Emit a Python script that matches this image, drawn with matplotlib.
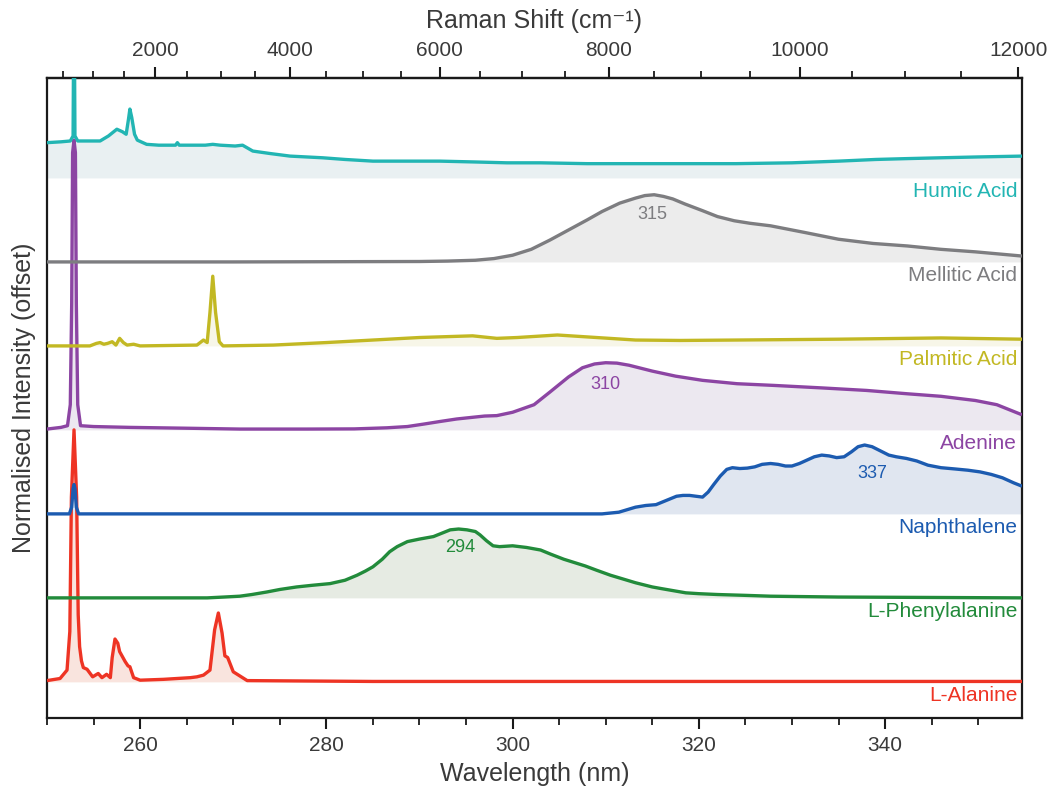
import numpy as np
import matplotlib
matplotlib.use("Agg")
import matplotlib.pyplot as plt
from matplotlib.ticker import MultipleLocator, FixedLocator

plt.rcParams['font.family'] = ['Liberation Sans', 'DejaVu Sans']

LASER_NM = 248.6

# ---------------- data (wavelength nm, normalised intensity) ----------------
humic_wl = [250.0, 251.5, 252.5, 252.8, 252.9, 253.0, 253.3, 254.5, 255.7,
            256.6, 257.5, 258.1, 258.5, 258.75, 258.9, 259.1, 259.4, 259.7, 260.7,
            262.0, 263.8, 264.0, 264.2, 266.0, 267.0, 267.8, 268.6, 270.2, 271.0,
            272.1, 274.0, 276.1, 279.6, 282.0, 285.0, 288.0, 292.2, 296.0, 299.4,
            303.0, 308.0, 313.2, 318.0, 324.0, 330.0, 335.0, 339.0, 342.3, 346.0,
            350.0, 354.7]
humic_int = [0.42, 0.43, 0.44, 0.5, 2.5, 0.5, 0.44, 0.44, 0.44,
             0.50, 0.58, 0.55, 0.52, 0.70, 0.82, 0.72, 0.52, 0.45, 0.40,
             0.39, 0.39, 0.42, 0.39, 0.39, 0.39, 0.40, 0.39, 0.38, 0.39,
             0.32, 0.29, 0.26, 0.24, 0.22, 0.20, 0.20, 0.20, 0.19, 0.18,
             0.18, 0.17, 0.17, 0.17, 0.17, 0.18, 0.20, 0.22, 0.23, 0.24,
             0.25, 0.26]

mellitic_wl = [250.0, 270.0, 290.0, 293.0, 296.0, 298.0, 300.0, 302.0, 304.0, 306.0,
               308.0, 309.6, 311.5, 313.2, 314.2, 315.2, 316.2, 317.2, 318.5, 320.4,
               322.0, 323.8, 325.5, 327.7, 331.4, 335.0, 338.7, 342.4, 346.0, 349.7,
               354.7]
mellitic_int = [0.0, 0.0, 0.005, 0.01, 0.02, 0.04, 0.08, 0.15, 0.26, 0.38,
                0.50, 0.60, 0.70, 0.76, 0.79, 0.80, 0.78, 0.75, 0.69, 0.61,
                0.54, 0.49, 0.46, 0.43, 0.35, 0.27, 0.22, 0.19, 0.15, 0.12,
                0.07]

palmitic_wl = [250.0, 254.6, 255.3, 255.7, 256.1, 256.5, 257.0, 257.4, 257.8, 258.2,
               258.6, 259.3, 260.0, 266.1, 266.8, 267.2, 267.5, 267.8, 268.1, 268.5,
               268.9, 274.3, 280.0, 285.0, 290.0, 295.7, 298.3, 300.5, 304.8, 309.0,
               313.2, 318.0, 324.1, 335.0, 346.0, 354.7]
palmitic_int = [0.0, 0.0, 0.03, 0.04, 0.02, 0.03, 0.05, 0.01, 0.09, 0.04,
                0.01, 0.02, 0.0, 0.01, 0.07, 0.04, 0.40, 0.83, 0.40, 0.05,
                0.0, 0.01, 0.04, 0.07, 0.10, 0.12, 0.09, 0.10, 0.13, 0.10,
                0.07, 0.065, 0.07, 0.08, 0.095, 0.08]

adenine_wl = [250.0, 251.5, 252.2, 252.5, 252.65, 252.75, 252.9, 253.05, 253.15, 253.3,
              253.6, 255.0, 258.9, 265.0, 270.7, 278.0, 283.0, 286.5, 288.7, 290.5,
              292.2, 294.0, 295.7, 297.0, 298.3, 300.0, 302.3, 304.0, 306.0, 307.5,
              308.8, 310.0, 311.2, 312.5, 315.0, 317.5, 320.4, 324.1, 328.0, 333.2,
              338.0, 342.4, 346.0, 349.7, 352.0, 353.8, 354.7]
adenine_int = [0.01, 0.03, 0.05, 0.3, 1.5, 3.3, 3.45, 3.3, 1.5, 0.3,
               0.05, 0.04, 0.03, 0.02, 0.01, 0.01, 0.012, 0.025, 0.04, 0.07,
               0.10, 0.13, 0.15, 0.165, 0.17, 0.21, 0.30, 0.45, 0.63, 0.74,
               0.785, 0.80, 0.795, 0.77, 0.70, 0.64, 0.59, 0.55, 0.53, 0.50,
               0.47, 0.43, 0.40, 0.35, 0.30, 0.22, 0.18]

naphthalene_wl = [250.0, 252.4, 252.65, 252.8, 252.9, 253.0, 253.15, 253.4, 270.0, 290.0,
                  305.0, 309.6, 311.4, 313.2, 314.3, 315.4, 316.5, 317.6, 318.3, 319.0,
                  319.7, 320.4, 321.0, 321.6, 322.3, 323.0, 323.6, 324.4, 325.2, 326.0,
                  326.8, 327.7, 328.5, 329.3, 330.0, 330.8, 331.6, 332.4, 333.2, 334.0,
                  334.8, 335.6, 336.4, 337.1, 337.8, 338.6, 339.5, 340.4, 341.2, 342.3,
                  343.4, 344.6, 346.0, 347.5, 348.9, 350.2, 351.4, 352.6, 353.8, 354.7]
naphthalene_int = [0.0, 0.0, 0.08, 0.30, 0.35, 0.30, 0.08, 0.0, 0.0, 0.0,
                   0.0, 0.0, 0.02, 0.08, 0.10, 0.11, 0.16, 0.21, 0.22, 0.22,
                   0.21, 0.20, 0.26, 0.35, 0.45, 0.53, 0.55, 0.54, 0.545, 0.56,
                   0.59, 0.60, 0.59, 0.57, 0.57, 0.60, 0.64, 0.68, 0.70, 0.69,
                   0.67, 0.68, 0.74, 0.80, 0.82, 0.80, 0.75, 0.70, 0.68, 0.66,
                   0.63, 0.58, 0.55, 0.535, 0.52, 0.50, 0.47, 0.43, 0.37, 0.33]

phenylalanine_wl = [250.0, 265.0, 267.2, 269.0, 270.7, 272.0, 273.6, 275.0, 276.8, 278.5,
                    280.4, 281.2, 282.0, 283.3, 284.2, 285.0, 286.0, 286.8, 287.6, 288.7,
                    290.0, 291.5, 292.4, 293.3, 294.2, 295.1, 296.0, 296.5, 297.2, 297.9,
                    298.6, 300.0, 301.5, 303.0, 304.1, 305.5, 307.8, 309.0, 310.5, 312.0,
                    313.2, 315.0, 316.0, 318.6, 320.0, 322.0, 325.0, 327.7, 335.0, 345.0,
                    354.7]
phenylalanine_int = [0.0, 0.0, 0.0, 0.01, 0.02, 0.04, 0.07, 0.10, 0.13, 0.15,
                     0.17, 0.19, 0.21, 0.27, 0.32, 0.37, 0.46, 0.55, 0.61, 0.67,
                     0.70, 0.73, 0.77, 0.81, 0.82, 0.81, 0.79, 0.75, 0.68, 0.62,
                     0.61, 0.62, 0.60, 0.57, 0.52, 0.46, 0.38, 0.33, 0.27, 0.22,
                     0.18, 0.13, 0.11, 0.06, 0.05, 0.04, 0.03, 0.02, 0.01, 0.005,
                     0.0]

alanine_wl = [250.0, 251.4, 252.15, 252.45, 252.62, 252.9, 253.18, 253.35, 253.5, 253.7,
              253.9, 254.3, 254.9, 255.5, 255.9, 256.4, 256.8, 257.0, 257.3, 257.6,
              257.8, 258.1, 258.4, 258.7, 258.9, 259.3, 260.0, 262.5, 265.4, 266.1,
              266.8, 267.5, 268.0, 268.4, 268.8, 269.1, 269.4, 270.0, 271.5, 285.0,
              303.0, 354.7]
alanine_int = [0.015, 0.04, 0.14, 0.6, 2.2, 3.0, 2.2, 0.8, 0.42, 0.25,
               0.17, 0.15, 0.06, 0.10, 0.05, 0.09, 0.05, 0.29, 0.51, 0.46,
               0.36, 0.30, 0.24, 0.19, 0.18, 0.05, 0.02, 0.03, 0.05, 0.06,
               0.08, 0.14, 0.62, 0.82, 0.58, 0.31, 0.29, 0.12, 0.015, 0.005,
               0.005, 0.005]

names = ['L-Alanine', 'L-Phenylalanine', 'Naphthalene', 'Adenine',
         'Palmitic Acid', 'Mellitic Acid', 'Humic Acid']
wls = [alanine_wl, phenylalanine_wl, naphthalene_wl, adenine_wl,
       palmitic_wl, mellitic_wl, humic_wl]
ints = [alanine_int, phenylalanine_int, naphthalene_int, adenine_int,
        palmitic_int, mellitic_int, humic_int]
offsets = [0, 1, 2, 3, 4, 5, 6]

line_colors = ['#ee3424', '#228b3b', '#1c5bb0', '#8c45a3', '#c2b823', '#7d7d80', '#22b5b3']
fill_colors = ['#f9e4de', '#e6ebe3', '#e0e6f0', '#ece8f0', '#f7f6e8', '#ececec', '#e9f0f2']

# peak annotations: (series index, label)
peak_labels = {1: '294', 2: '337', 3: '310', 5: '315'}
peak_label_pos = {1: (294.4, 0.60), 2: (338.6, 0.48), 3: (310.0, 0.54), 5: (315.0, 0.56)}

# ---------------- figure ----------------
fig = plt.figure(figsize=(10.47, 7.87), dpi=100)
ax = fig.add_axes([0.0449, 0.0877, 0.9312, 0.8132])

for i, (wl, it, off) in enumerate(zip(wls, ints, offsets)):
    wl = np.asarray(wl)
    y = off + np.asarray(it)
    ax.fill_between(wl, off, y, color=fill_colors[i], lw=0, zorder=1)
    ax.plot(wl, y, color=line_colors[i], lw=2.4, zorder=3 + i,
            solid_joinstyle='round', solid_capstyle='butt')
    ax.text(354.2, off - 0.16, names[i], ha='right', va='center',
            color=line_colors[i], fontsize=15, zorder=20)
    if i in peak_labels:
        px, py = peak_label_pos[i]
        ax.text(px, off + py, peak_labels[i], ha='center', va='center',
                color=line_colors[i], fontsize=13, zorder=20)

ax.set_xlim(250, 354.7)
ax.set_ylim(-0.43, 7.19)
ax.set_yticks([])

txt_col = '#3a3a3a'
for s in ax.spines.values():
    s.set_linewidth(1.6)
    s.set_color('#1a1a1a')

ax.xaxis.set_major_locator(MultipleLocator(20))
ax.xaxis.set_minor_locator(MultipleLocator(5))
ax.tick_params(axis='x', which='major', direction='out', length=8, width=1.5,
               labelsize=15, labelcolor=txt_col, color='#1a1a1a', pad=5)
ax.tick_params(axis='x', which='minor', direction='out', length=5, width=1.3,
               color='#1a1a1a')
ax.set_xlabel('Wavelength (nm)', fontsize=18, color=txt_col, labelpad=5)
ax.set_ylabel('Normalised Intensity (offset)', fontsize=18, color=txt_col, labelpad=8)


def nm2shift(x):
    x = np.asarray(x, dtype=float)
    with np.errstate(divide='ignore', invalid='ignore'):
        return 1e7 / LASER_NM - 1e7 / x


def shift2nm(s):
    s = np.asarray(s, dtype=float)
    with np.errstate(divide='ignore', invalid='ignore'):
        return 1e7 / (1e7 / LASER_NM - s)


raman_major = [2000, 4000, 6000, 8000, 10000, 12000]
raman_minor = list(range(500, 12001, 500))

secax = ax.secondary_xaxis('top', functions=(nm2shift, shift2nm))
secax.xaxis.set_major_locator(FixedLocator(raman_major))
secax.xaxis.set_minor_locator(FixedLocator(raman_minor))
secax.tick_params(axis='x', which='major', direction='out', length=8, width=1.5,
                  labelsize=15, labelcolor=txt_col, color='#1a1a1a', pad=5)
secax.tick_params(axis='x', which='minor', direction='out', length=5, width=1.3,
                  color='#1a1a1a')
secax.spines['top'].set_linewidth(1.6)
secax.spines['top'].set_color('#1a1a1a')
secax.set_xlabel('Raman Shift (cm⁻¹)', fontsize=18, color=txt_col, labelpad=9)

fig.savefig('out.png', dpi=100)
